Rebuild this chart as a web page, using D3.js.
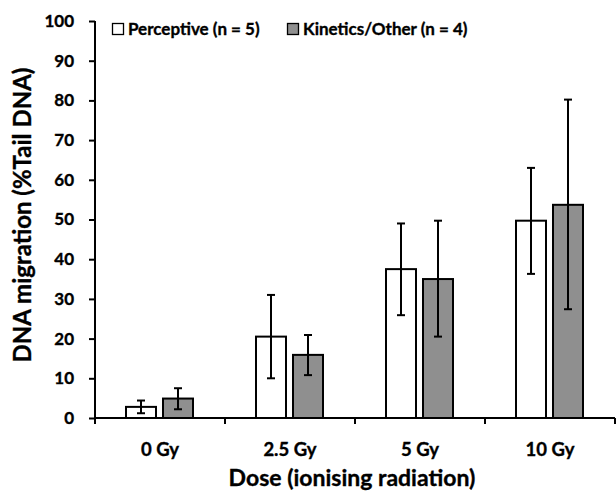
<!DOCTYPE html>
<html><head><meta charset="utf-8">
<script src="https://cdn.jsdelivr.net/npm/d3@7"></script>
<style>body{margin:0;background:#fff;} svg{display:block;font-family:Lato,"Open Sans",sans-serif;font-weight:bold;}</style>
</head><body>
<script>
const categories = ["0 Gy","2.5 Gy","5 Gy","10 Gy"];
const seriesNames = ["Perceptive (n = 5)","Kinetics/Other (n = 4)"];
const perceptive = [2.8, 20.5, 37.5, 49.7];
const perceptiveLow = [1.2, 10.0, 25.9, 36.3];
const perceptiveHigh = [4.4, 31.0, 49.0, 63.0];
const kinetics = [4.9, 15.9, 35.0, 53.7];
const kineticsLow = [2.2, 10.8, 20.5, 27.4];
const kineticsHigh = [7.5, 20.9, 49.7, 80.2];
const yTicks = [0,10,20,30,40,50,60,70,80,90,100];
const colors = ["#ffffff","#8f8f8f"];

const W=616,H=491;
const svg=d3.select("body").append("svg").attr("width",W).attr("height",H);
const x=d3.scaleBand().domain(categories).range([95,615]);
const y=d3.scaleLinear().domain([0,100]).range([418,21]);
const sub=d3.scaleBand().domain([0,1]).range([31,98]).paddingInner(7/37);
const txt=s=>s.attr("fill","#000").attr("stroke","#000").attr("stroke-width",0.35);

const series=[
 {vals:perceptive,lo:perceptiveLow,hi:perceptiveHigh},
 {vals:kinetics,lo:kineticsLow,hi:kineticsHigh}];

series.forEach((s,si)=>{
  const g=svg.append("g");
  g.selectAll("rect").data(categories).join("rect")
   .attr("x",c=>x(c)+sub(si)).attr("width",sub.bandwidth())
   .attr("y",(c,i)=>y(s.vals[i])).attr("height",(c,i)=>y(0)-y(s.vals[i]))
   .attr("fill",colors[si]).attr("stroke","#000").attr("stroke-width",2);
  categories.forEach((c,i)=>{
    const cx=x(c)+sub(si)+sub.bandwidth()/2;
    g.append("line").attr("x1",cx).attr("x2",cx).attr("y1",y(s.lo[i])).attr("y2",y(s.hi[i])).attr("stroke","#000").attr("stroke-width",2);
    [s.lo[i],s.hi[i]].forEach(v=>g.append("line").attr("x1",cx-4).attr("x2",cx+4).attr("y1",y(v)).attr("y2",y(v)).attr("stroke","#000").attr("stroke-width",2));
  });
});

// y axis
const ya=svg.append("g").attr("transform","translate(95,0)")
 .call(d3.axisLeft(y).tickValues(yTicks).tickSize(6).tickPadding(15));
ya.select(".domain").attr("stroke","#000").attr("stroke-width",2).attr("d","M0,"+y(100)+"V"+y(0));
ya.selectAll(".tick line").attr("stroke","#000").attr("stroke-width",2);
ya.selectAll(".tick text").attr("font-size",17).attr("font-weight","bold").attr("font-family","Lato").call(txt);

// x axis
const xa=svg.append("g").attr("transform","translate(0,418)")
 .call(d3.axisBottom(x).tickSize(0).tickPadding(25));
xa.select(".domain").attr("stroke","#000").attr("stroke-width",2).attr("d","M95,0H615");
xa.selectAll(".tick text").attr("font-size",18.5).attr("font-weight","bold").attr("font-family","Lato").call(txt);
d3.range(categories.length+1).forEach(i=>{
  const xv=x.range()[0]+i*x.step();
  svg.append("line").attr("x1",xv).attr("x2",xv).attr("y1",418).attr("y2",424).attr("stroke","#000").attr("stroke-width",2);
});

// titles
svg.append("text").attr("x",352).attr("y",486).attr("text-anchor","middle").attr("font-size",23).call(txt).text("Dose (ionising radiation)");
svg.append("text").attr("transform","translate(31,215) rotate(-90)").attr("text-anchor","middle").attr("font-size",24).call(txt).text("DNA migration (%Tail DNA)");

// legend
const leg=[{x:112,name:seriesNames[0],c:colors[0]},{x:287,name:seriesNames[1],c:colors[1]}];
leg.forEach(l=>{
  svg.append("rect").attr("x",l.x+0.5).attr("y",23.5).attr("width",11).attr("height",11).attr("fill",l.c).attr("stroke","#000").attr("stroke-width",1.3);
  svg.append("text").attr("x",l.x+16).attr("y",35).attr("font-size",17).call(txt).text(l.name);
});
</script>
</body></html>
